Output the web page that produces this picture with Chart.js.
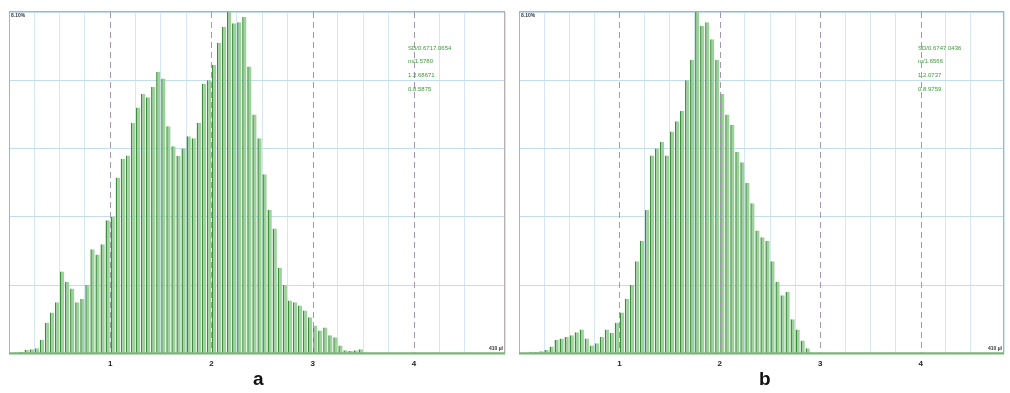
<!DOCTYPE html>
<html>
<head>
<meta charset="utf-8">
<script src="https://cdn.jsdelivr.net/npm/chart.js@4.4.1/dist/chart.umd.min.js"></script>
<style>
  html, body { margin: 0; padding: 0; background: #fff; }
  #wrap { position: relative; width: 1010px; height: 393px; overflow: hidden; }
  canvas { position: absolute; top: 0; }
  #chartA { left: 0; }
  #chartB { left: 510px; }
  .tag { position: absolute; top: 368px; font: bold 19px "Liberation Sans", Arial, sans-serif; color: #111; }
</style>
</head>
<body>
<div id="wrap">
  <canvas id="chartA" width="511" height="376"></canvas>
  <canvas id="chartB" width="500" height="376"></canvas>
  <div class="tag" style="left:253px">a</div>
  <div class="tag" style="left:759px">b</div>
</div>
<script>
(function() {
    'use strict';

    // bin width of the histogram (x axis units)
    const BIN_WIDTH = 0.05;

    // panel a: bar heights, % of the top of the scale, bin 0 starts at 0
    const valuesA = [
        0, 0.3, 0.5, 1, 1.2, 1.5, 4, 9, 12, 15,
        24, 21, 19, 15, 16, 20, 30.5, 29, 32, 39,
        40, 51.5, 57, 58, 67.5, 72, 76, 75, 78, 82.5,
        80.5, 66.5, 60.7, 57.8, 60, 63.6, 63, 67.5, 79, 80,
        84.5, 91, 95.6, 100, 96.7, 97, 98.5, 84, 70, 63,
        52.5, 42, 36.6, 25, 20, 15.5, 15, 14, 12.6, 10.6,
        8.2, 6.7, 7.6, 5.3, 4.7, 2.3, 0.9, 0.7, 0.9, 1.2,
        0.3
    ];

    // panel b
    const valuesB = [
        0, 0, 0.5, 0.5, 0.6, 1, 2, 4, 4.4, 4.8,
        5.3, 6.2, 7, 4.4, 2.3, 3, 4.8, 7, 6, 9,
        12, 16, 20, 27, 33, 42, 58, 60, 62, 58,
        65, 68, 71, 80, 86, 100, 96, 97, 92, 86,
        76, 70, 67, 59, 56, 50, 44, 36, 34, 33,
        27, 21, 17, 18, 10, 7, 3.8, 1.5, 0.3
    ];

    // labelled ticks on the x axis (dashed lines)
    const xTickLabels = [1, 2, 3, 4];

    const statsA = ['SD/0.6717.0654', 'm/1.5780', '1.2.68671', '0.8.5875'];
    const statsB = ['SD/0.6747.0436', 'm/1.6566', '1.2.0737', '0.8.9759'];
    const cornerLabel = '8.10%';
    const unitLabel = '410 µl';

    const FONT = '"Liberation Sans", Arial, sans-serif';
    const isWhole = v => Math.abs(v - Math.round(v)) < 1e-6;

    // frame, dashed integer lines and the small texts
    const panelDecor = {
        id: 'panelDecor',
        afterDatasetsDraw(chart, args, opts) {
            const { ctx, chartArea: a, scales: { x } } = chart;
            ctx.save();

            ctx.strokeStyle = '#a596b4';
            ctx.lineWidth = 1;
            ctx.setLineDash([6, 4]);
            xTickLabels.forEach(v => {
                const px = Math.round(x.getPixelForValue(v)) + 0.5;
                ctx.beginPath();
                ctx.moveTo(px, a.top);
                ctx.lineTo(px, a.bottom);
                ctx.stroke();
            });
            ctx.setLineDash([]);

            ctx.strokeStyle = '#b8aeae';
            ctx.strokeRect(a.left + 0.5, a.top - 0.5, a.right - a.left - 1, a.bottom - a.top);

            ctx.strokeStyle = '#6cbc6c';
            ctx.lineWidth = 2;
            ctx.beginPath();
            ctx.moveTo(a.left, a.bottom);
            ctx.lineTo(a.right, a.bottom);
            ctx.stroke();

            ctx.fillStyle = '#333';
            ctx.font = 'bold 5px ' + FONT;
            ctx.textBaseline = 'top';
            ctx.textAlign = 'left';
            ctx.fillText(cornerLabel, a.left + 2, a.top + 1);
            ctx.textAlign = 'right';
            ctx.textBaseline = 'bottom';
            ctx.fillText(unitLabel, a.right - 2, a.bottom - 2);

            ctx.fillStyle = '#3b9a3b';
            ctx.font = '6px ' + FONT;
            ctx.textAlign = 'left';
            ctx.textBaseline = 'middle';
            opts.stats.forEach((s, i) => {
                ctx.fillText(s, a.left + opts.statsX, 48 + i * 13.8);
            });
            ctx.restore();
        }
    };

    function makeChart(id, values, xMax, stats, padRight) {
        const ctx = document.getElementById(id).getContext('2d');
        return new Chart(ctx, {
            type: 'bar',
            data: {
                datasets: [{
                    data: values.map((v, i) => ({ x: (i + 0.5) * BIN_WIDTH, y: v })),
                    backgroundColor: '#9dd29d',
                    borderColor: '#3e8c3e',
                    borderWidth: { left: 1.5, right: 0, top: 0, bottom: 0 },
                    borderSkipped: false,
                    barPercentage: 0.86,
                    categoryPercentage: 1
                }]
            },
            options: {
                responsive: false,
                animation: false,
                devicePixelRatio: 1,
                layout: { padding: { left: 9, right: padRight, top: 12, bottom: 1 } },
                plugins: {
                    legend: { display: false },
                    tooltip: { enabled: false },
                    panelDecor: { stats: stats, statsX: 399 }
                },
                scales: {
                    x: {
                        type: 'linear',
                        min: 0,
                        max: xMax,
                        offset: false,
                        border: { display: false },
                        grid: {
                            offset: false,
                            drawTicks: false,
                            color: c => (c.tick && isWhole(c.tick.value)) ? 'rgba(0,0,0,0)' : '#d4e7f3'
                        },
                        ticks: {
                            stepSize: 0.25,
                            autoSkip: false,
                            maxRotation: 0,
                            padding: 6,
                            color: '#222',
                            font: { family: FONT, size: 8, weight: 'bold' },
                            callback: v => (isWhole(v) && v > 0 && xTickLabels.includes(Math.round(v))) ? String(Math.round(v)) : ''
                        }
                    },
                    y: {
                        min: 0,
                        max: 100,
                        border: { display: false },
                        grid: { drawTicks: false, color: '#c3dcee' },
                        ticks: { display: false, stepSize: 20 }
                    }
                }
            },
            plugins: [panelDecor]
        });
    }

    makeChart('chartA', valuesA, 4.9, statsA, 6);
    makeChart('chartB', valuesB, 4.83, statsB, 5);
})();
</script>
</body>
</html>
